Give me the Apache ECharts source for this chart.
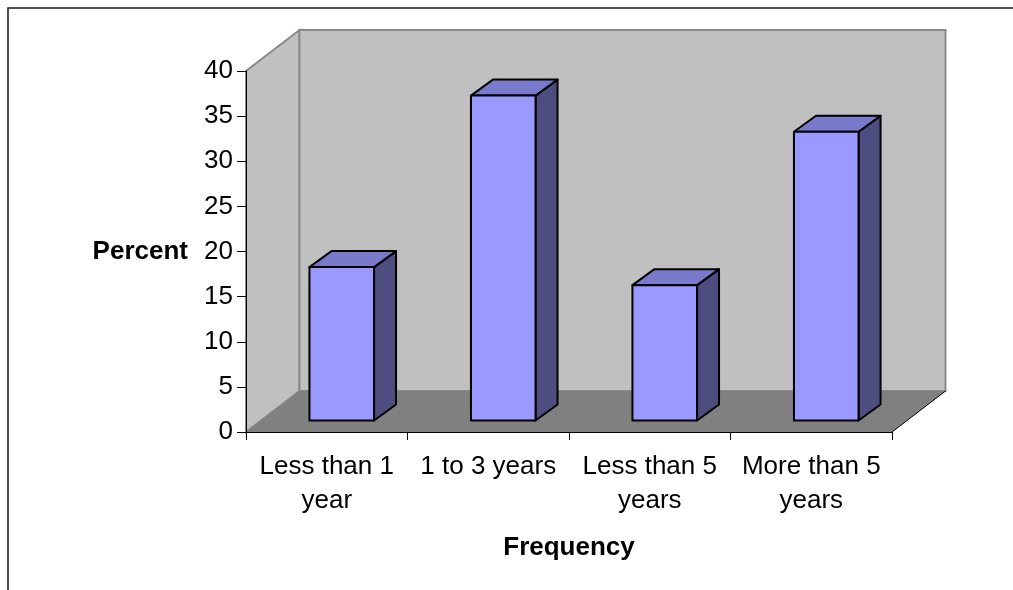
<!DOCTYPE html>
<html>
<head>
<meta charset="utf-8">
<style>
  html, body { margin: 0; padding: 0; background: #fff; }
  #chart { width: 1013px; height: 590px; }
</style>
<script src="https://cdn.jsdelivr.net/npm/echarts@6/dist/echarts.min.js"></script>
</head>
<body>
<div id="chart"></div>
<script>
// Share of respondents by frequency band
const categories = ['Less than 1\nyear', '1 to 3 years', 'Less than 5\nyears', 'More than 5\nyears'];
const percents = [17, 36, 15, 32];
const axisMin = 0;
const axisMax = 40;
const axisStep = 5;

const FONT = '"Liberation Sans", Arial, Helvetica, sans-serif';

// Pseudo-3D geometry (pixels)
const WALL_DEPTH = [53.5, -41];   // offset of the back wall from the axis plane
const BAR_FRONT = [15, -11.5];    // bar front face sits this far into the floor
const BAR_DEPTH = [22, -16];      // depth of each bar
const BAR_RATIO = 0.4;            // bar width as share of the category band

const COLORS = {
  wall: '#c0c0c0',
  wallEdge: '#8a8a8a',
  floor: '#808080',
  barFront: '#9999ff',
  barTop: '#7a7acc',
  barSide: '#4d4d80',
  ink: '#000000'
};

const chart = echarts.init(document.getElementById('chart'), null, { renderer: 'canvas' });

function renderWalls(params, api) {
  const cs = params.coordSys;
  const l = cs.x, r = cs.x + cs.width, t = cs.y, b = cs.y + cs.height;
  const dx = WALL_DEPTH[0], dy = WALL_DEPTH[1];
  return {
    type: 'group',
    children: [
      {
        type: 'polygon',
        shape: { points: [[l, b], [l, t], [l + dx, t + dy], [l + dx, b + dy]] },
        style: { fill: COLORS.wall, stroke: COLORS.wallEdge, lineWidth: 2 }
      },
      {
        type: 'rect',
        shape: { x: l + dx, y: t + dy, width: r - l, height: b - t },
        style: { fill: COLORS.wall, stroke: COLORS.wallEdge, lineWidth: 2 }
      },
      {
        type: 'polygon',
        shape: { points: [[l, b], [l + dx, b + dy], [r + dx, b + dy], [r, b]] },
        style: { fill: COLORS.floor }
      },
      {
        type: 'line',
        shape: { x1: r, y1: b, x2: r + dx, y2: b + dy },
        style: { stroke: COLORS.ink, lineWidth: 1 }
      }
    ]
  };
}

function renderBar(params, api) {
  const idx = api.value(0);
  const val = api.value(1);
  const base = api.coord([idx, 0]);
  const top = api.coord([idx, val]);
  const bw = api.size([1, 0])[0] * BAR_RATIO;
  const x0 = base[0] - bw / 2 + BAR_FRONT[0];
  const x1 = x0 + bw;
  const yb = base[1] + BAR_FRONT[1];
  const yt = top[1] + BAR_FRONT[1];
  const dx = BAR_DEPTH[0], dy = BAR_DEPTH[1];
  const edge = { stroke: COLORS.ink, lineWidth: 2, lineJoin: 'round' };
  return {
    type: 'group',
    children: [
      {
        type: 'polygon',
        shape: { points: [[x1, yb], [x1 + dx, yb + dy], [x1 + dx, yt + dy], [x1, yt]] },
        style: Object.assign({ fill: COLORS.barSide }, edge)
      },
      {
        type: 'polygon',
        shape: { points: [[x0, yt], [x0 + dx, yt + dy], [x1 + dx, yt + dy], [x1, yt]] },
        style: Object.assign({ fill: COLORS.barTop }, edge)
      },
      {
        type: 'rect',
        shape: { x: x0, y: yt, width: bw, height: yb - yt },
        style: Object.assign({ fill: COLORS.barFront }, edge)
      }
    ]
  };
}

const option = {
  backgroundColor: '#ffffff',
  animation: false,
  grid: { left: 246, right: 121, top: 71, bottom: 158, containLabel: false },
  graphic: [
    {
      type: 'polyline',
      shape: { points: [[8, 590], [8, 8], [1013, 8]] },
      style: { stroke: '#1a1a1a', lineWidth: 1.5, fill: null },
      silent: true,
      z: 0
    }
  ],
  xAxis: {
    type: 'category',
    data: categories,
    z: 5,
    boundaryGap: true,
    axisLine: { show: true, lineStyle: { color: COLORS.ink, width: 1 } },
    axisTick: { show: true, length: 8, alignWithLabel: false, interval: 0, lineStyle: { color: COLORS.ink } },
    axisLabel: {
      interval: 0,
      margin: 18,
      color: COLORS.ink,
      fontFamily: FONT,
      fontSize: 26,
      lineHeight: 34,
      align: 'center'
    },
    splitLine: { show: false },
    name: 'Frequency',
    nameLocation: 'middle',
    nameGap: 101,
    nameTextStyle: { fontFamily: FONT, fontSize: 26, fontWeight: 'bold', color: COLORS.ink, lineHeight: 30 }
  },
  yAxis: {
    type: 'value',
    min: axisMin,
    max: axisMax,
    interval: axisStep,
    z: 5,
    axisLine: { show: true, lineStyle: { color: COLORS.ink, width: 1 } },
    axisTick: { show: true, length: 9, lineStyle: { color: COLORS.ink } },
    axisLabel: { margin: 13, color: COLORS.ink, fontFamily: FONT, fontSize: 26 },
    splitLine: { show: false },
    name: 'Percent',
    nameLocation: 'middle',
    nameRotate: 0,
    nameGap: 58,
    nameTextStyle: { fontFamily: FONT, fontSize: 26, fontWeight: 'bold', color: COLORS.ink }
  },
  series: [
    {
      name: 'walls',
      type: 'custom',
      silent: true,
      z: 1,
      clip: false,
      renderItem: renderWalls,
      data: [[0, 0]]
    },
    {
      name: 'Percent',
      type: 'custom',
      z: 2,
      clip: false,
      renderItem: renderBar,
      encode: { x: 0, y: 1 },
      data: percents.map((v, i) => [i, v])
    }
  ]
};

chart.setOption(option);
</script>
</body>
</html>
